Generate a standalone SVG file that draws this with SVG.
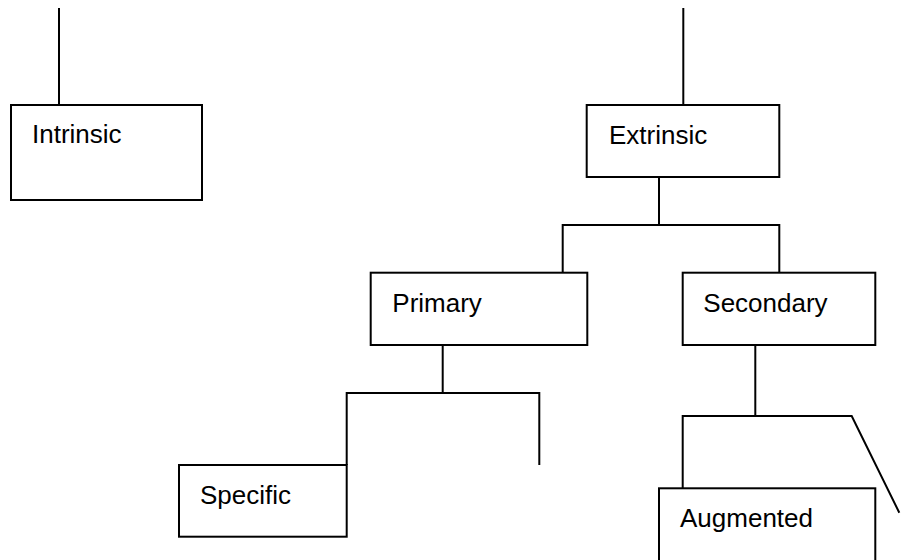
<svg xmlns="http://www.w3.org/2000/svg" width="902" height="560" viewBox="0 0 902 560">
<style>
.box{fill:#fff;stroke:#000;stroke-width:2}
.ln{fill:none;stroke:#000;stroke-width:2}
.lbl{font-family:"Liberation Sans",Arial,sans-serif;font-size:26px;fill:#000}
</style>
<rect width="902" height="560" fill="#fff"/>
<g id="connectors">
<line class="ln" x1="59" y1="8" x2="59" y2="105"/>
<line class="ln" x1="683.3" y1="8" x2="683.3" y2="105"/>
<line class="ln" x1="659" y1="177" x2="659" y2="225"/>
<polyline class="ln" points="562.7,272.7 562.7,225 779.3,225 779.3,272.7"/>
<line class="ln" x1="442.7" y1="345" x2="442.7" y2="393"/>
<polyline class="ln" points="346.7,465 346.7,393 539.3,393 539.3,465"/>
<line class="ln" x1="755.3" y1="345" x2="755.3" y2="416"/>
<polyline class="ln" points="682.7,488.3 682.7,416 851.7,416 899.3,512.7"/>
</g>
<g id="intrinsic">
<rect class="box" x="11" y="105" width="191" height="95"/>
<text class="lbl" x="32" y="143">Intrinsic</text>
</g>
<g id="extrinsic">
<rect class="box" x="586.7" y="105" width="192.6" height="72"/>
<text class="lbl" x="609" y="144">Extrinsic</text>
</g>
<g id="primary">
<rect class="box" x="370.7" y="272.7" width="216.6" height="72.3"/>
<text class="lbl" x="392.3" y="311.7">Primary</text>
</g>
<g id="secondary">
<rect class="box" x="682.7" y="272.7" width="192.6" height="72.3"/>
<text class="lbl" x="703.3" y="311.7">Secondary</text>
</g>
<g id="specific">
<rect class="box" x="179" y="465" width="167.7" height="71.7"/>
<text class="lbl" x="200" y="504">Specific</text>
</g>
<g id="augmented">
<rect class="box" x="659" y="488.3" width="216.3" height="90"/>
<text class="lbl" x="680" y="526.7">Augmented</text>
</g>
</svg>
